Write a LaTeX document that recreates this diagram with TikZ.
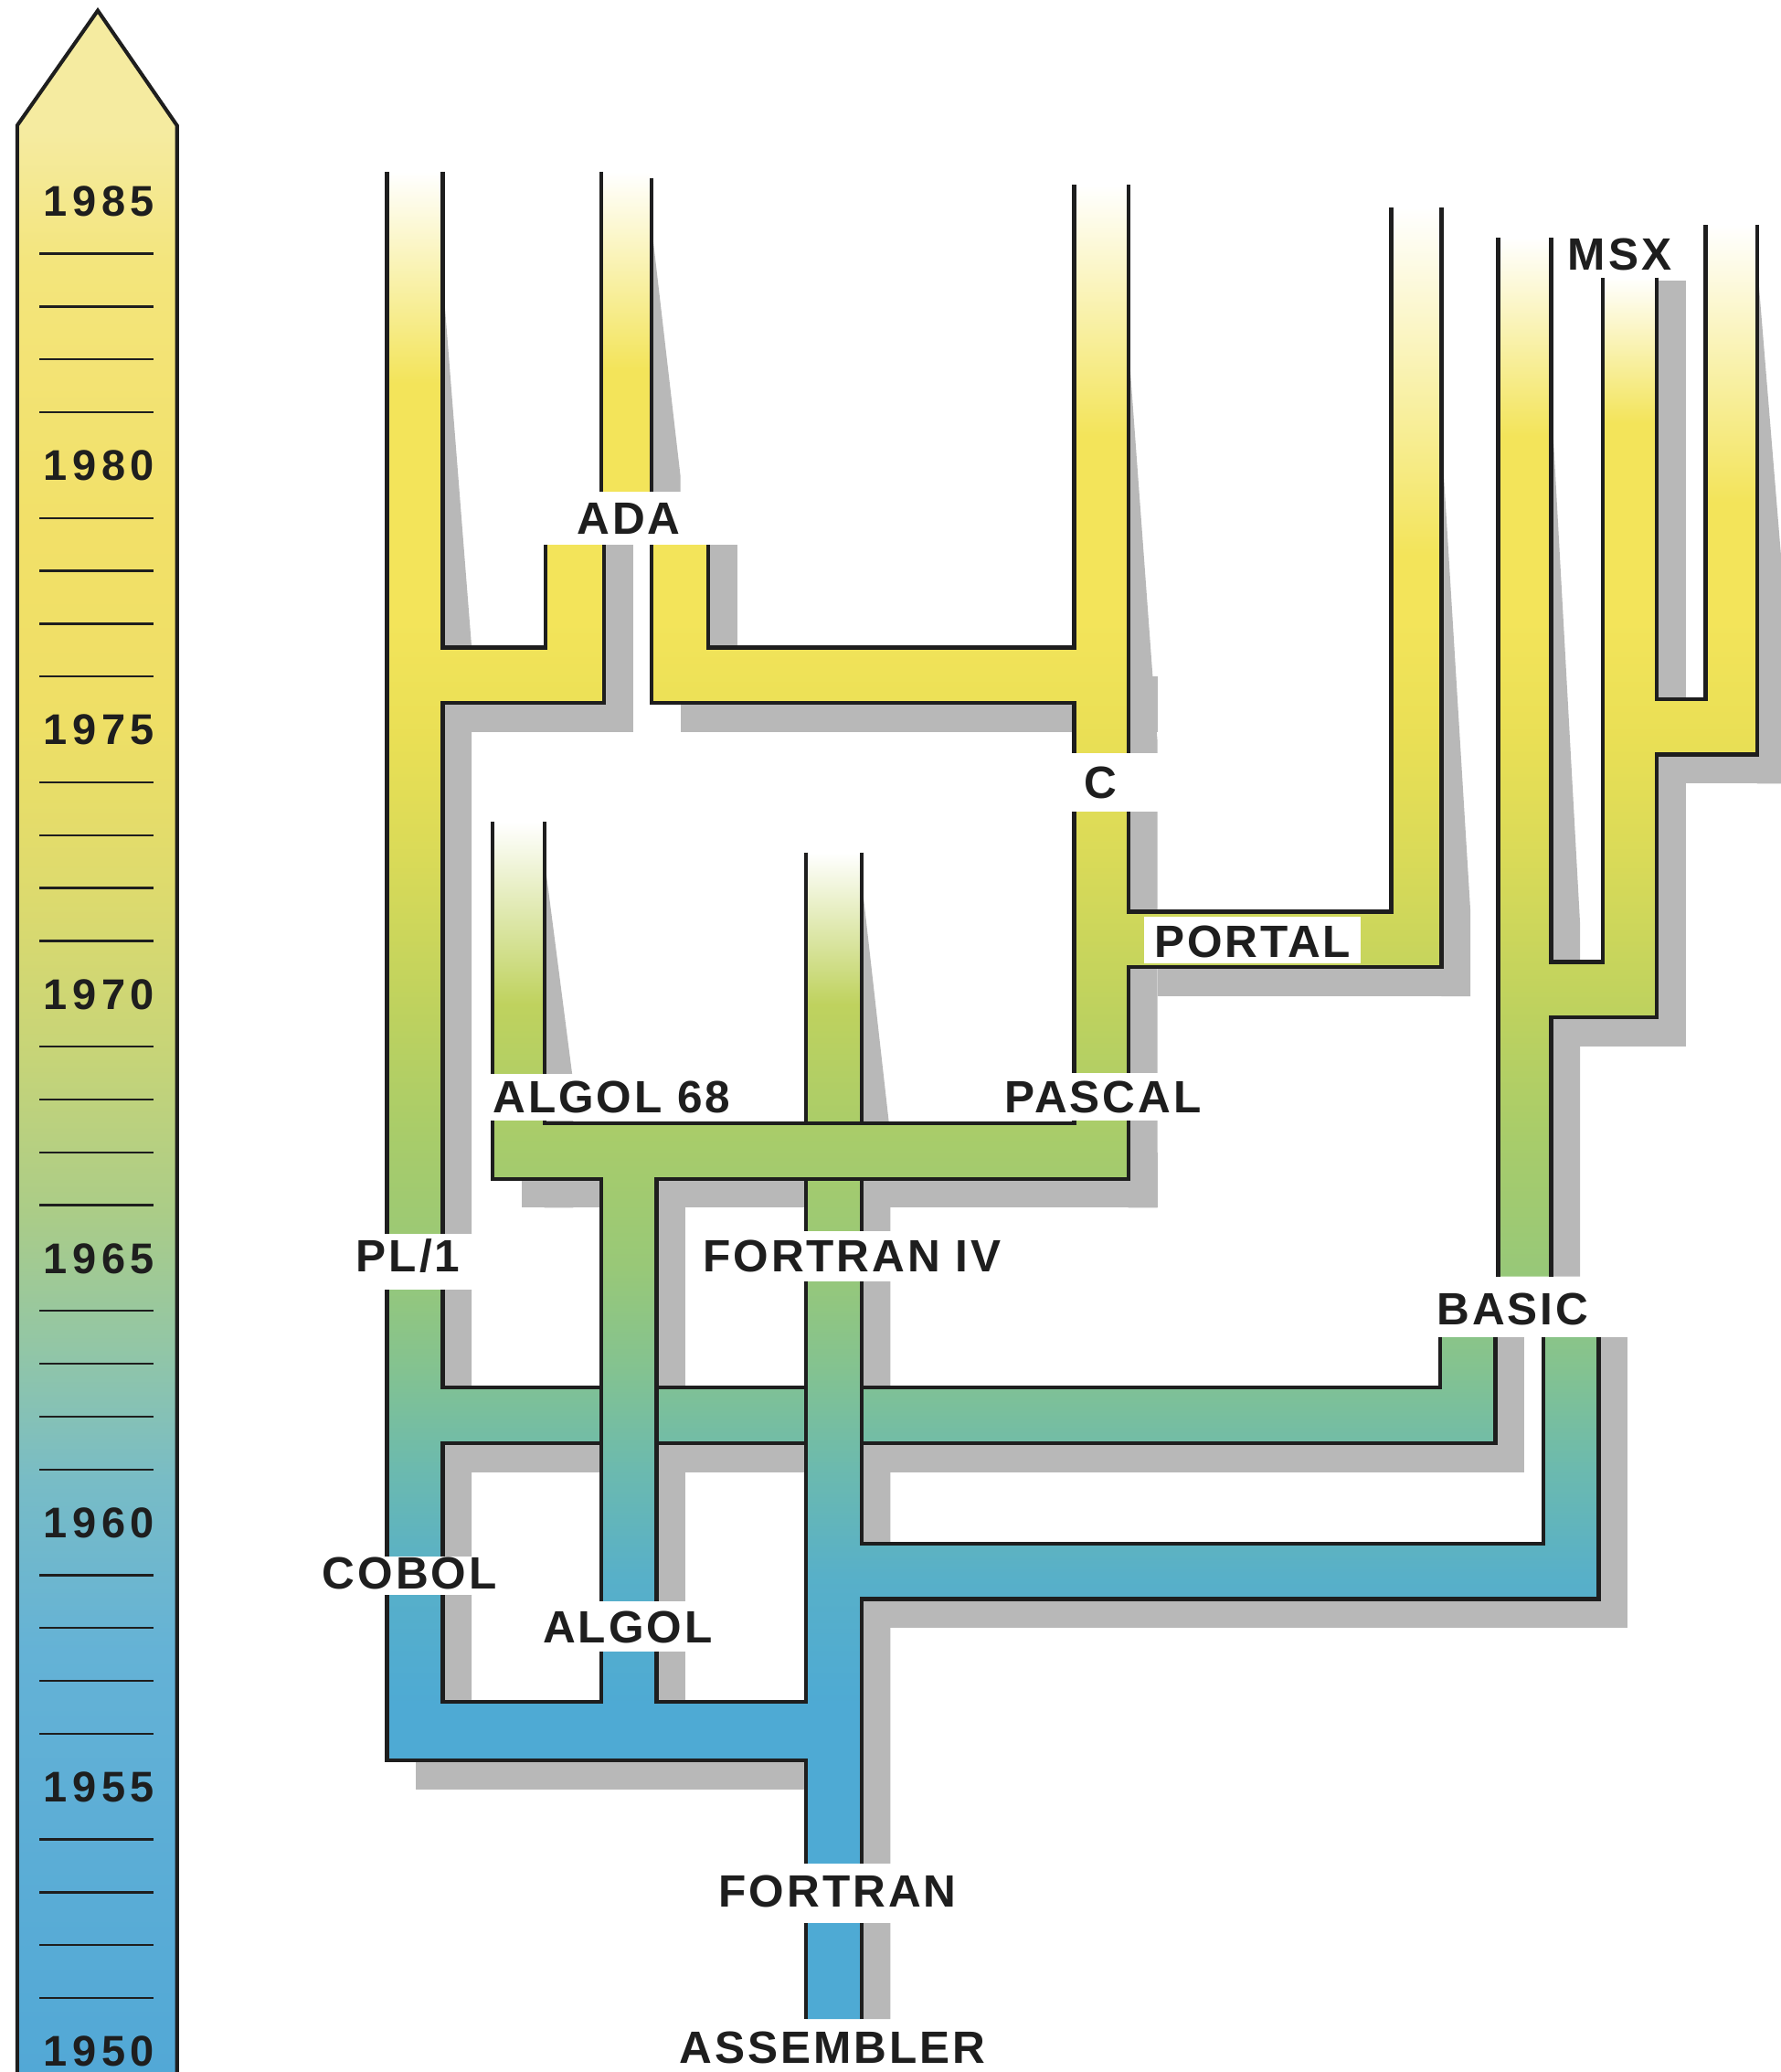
\documentclass[tikz,border=0pt]{standalone}
\usepackage{fontspec}
\setmainfont{Liberation Sans}
\newfontfamily\yearfont[LetterSpace=12]{Liberation Sans}
\newfontfamily\labfont[LetterSpace=6]{Liberation Sans}
\definecolor{g0}{HTML}{F3E45A}
\definecolor{g1}{HTML}{E9DF55}
\definecolor{g2}{HTML}{D9DA58}
\definecolor{g3}{HTML}{BFD25E}
\definecolor{g4}{HTML}{A8CC6A}
\definecolor{g5}{HTML}{98C878}
\definecolor{g6}{HTML}{82C292}
\definecolor{g7}{HTML}{6CBAAE}
\definecolor{g8}{HTML}{58B0C8}
\definecolor{g9}{HTML}{4EAAD4}
\definecolor{t0}{HTML}{F5EBA0}
\definecolor{t1}{HTML}{F3E57C}
\definecolor{t2}{HTML}{F2E068}
\definecolor{t3}{HTML}{EEDF66}
\definecolor{t4}{HTML}{DCDA6E}
\definecolor{t5}{HTML}{C6D478}
\definecolor{t6}{HTML}{AACC88}
\definecolor{t7}{HTML}{92C6A6}
\definecolor{t8}{HTML}{78BCC6}
\definecolor{t9}{HTML}{64B2D6}
\definecolor{t10}{HTML}{52A8D6}
\definecolor{ink}{HTML}{1E1E1E}
\tikzset{
  tubeline/.style={draw=ink, line width=1.7pt, line join=miter, line cap=butt},
  shadowfill/.style={fill=black!28},
  gapbox/.style={fill=white},
  lab/.style={font=\labfont\bfseries\fontsize{19.5}{20}\selectfont, text=ink, inner sep=0pt, text height=14pt, text depth=0pt},
  yr/.style={font=\yearfont\bfseries\fontsize{18.5}{20}\selectfont, text=ink, inner sep=0pt, text height=13.3pt, text depth=0pt},
  tickline/.style={draw=ink, line width=0.9pt},
  barline/.style={draw=ink, line width=1.6pt, line join=miter}
}
\begin{document}
\begin{tikzpicture}[x=0.02cm, y=-0.02cm]
\useasboundingbox (0,0) rectangle (1348,1568);
\fill[white] (0,0) rectangle (1348,1568);

% ---------- time line ----------
\begin{scope}
\clip (13,1570) -- (13,95) -- (74,8) -- (134,95) -- (134,1570) -- cycle;
\fill[t0] (0,0) rectangle (150,101);
\shade[top color=t0,bottom color=t1] (0,100) rectangle (150,201);
\shade[top color=t1,bottom color=t2] (0,200) rectangle (150,401);
\shade[top color=t2,bottom color=t3] (0,400) rectangle (150,551);
\shade[top color=t3,bottom color=t4] (0,550) rectangle (150,681);
\shade[top color=t4,bottom color=t5] (0,680) rectangle (150,801);
\shade[top color=t5,bottom color=t6] (0,800) rectangle (150,921);
\shade[top color=t6,bottom color=t7] (0,920) rectangle (150,1021);
\shade[top color=t7,bottom color=t8] (0,1020) rectangle (150,1121);
\shade[top color=t8,bottom color=t9] (0,1120) rectangle (150,1251);
\shade[top color=t9,bottom color=t10] (0,1250) rectangle (150,1570);
\end{scope}
\draw[barline] (13,1570) -- (13,95) -- (74,8) -- (134,95) -- (134,1570);
\foreach \k in {1,...,34}{
  \pgfmathtruncatemacro\m{mod(\k,5)}
  \ifnum\m>0 \draw[tickline] (30,152+40*\k) -- (116,152+40*\k); \fi
}
\foreach \yy [count=\i from 0] in {1985,1980,1975,1970,1965,1960,1955,1950}{
  \node[yr] (y\yy) at (75,152+200*\i) {\yy};
}

% ---------- shadows ----------
\fill[shadowfill] (335,210) -- (357,490) -- (357,1310) -- (335,1310) -- cycle;
\fill[shadowfill] (357,512) rectangle (479,554);
\fill[shadowfill] (493,170) -- (515,360) -- (515,372) -- (493,372) -- cycle;
\fill[shadowfill] (457,412) rectangle (479,554);
\fill[shadowfill] (536,412) rectangle (558,512);
\fill[shadowfill] (515,512) rectangle (876,554);
\fill[shadowfill] (854,260) -- (876,560) -- (876,914) -- (854,914) -- cycle;
\fill[shadowfill] (876,712) rectangle (1113,754);
\fill[shadowfill] (1091,330) -- (1113,690) -- (1113,754) -- (1091,754) -- cycle;
\fill[shadowfill] (412,650) -- (434,820) -- (434,914) -- (412,914) -- cycle;
\fill[shadowfill] (395,872) rectangle (876,914);
\fill[shadowfill] (497,892) rectangle (519,1310);
\fill[shadowfill] (652,665) -- (674,860) -- (674,1528) -- (652,1528) -- cycle;
\fill[shadowfill] (315,1072) rectangle (1154,1114);
\fill[shadowfill] (1132,1012) rectangle (1154,1114);
\fill[shadowfill] (632,1190) rectangle (1232,1232);
\fill[shadowfill] (1210,1012) rectangle (1232,1232);
\fill[shadowfill] (1174,300) -- (1196,700) -- (1196,966) -- (1174,966) -- cycle;
\fill[shadowfill] (1156,750) rectangle (1276,792);
\fill[shadowfill] (1254,212) rectangle (1276,792);
\fill[shadowfill] (1235,551) rectangle (1348,593);
\fill[shadowfill] (1330,200) -- (1348,420) -- (1348,593) -- (1330,593) -- cycle;
\fill[shadowfill] (315,1310) rectangle (674,1354);

% ---------- tube fills ----------
\begin{scope}
\clip (293,130) rectangle (335,1332)
      (455,130) rectangle (493,372)
      (413,412) rectangle (457,532)
      (493,412) rectangle (536,532)
      (335,490) rectangle (457,532)
      (493,490) rectangle (854,532)
      (813,140) rectangle (854,892)
      (854,690) rectangle (1091,732)
      (1053,157) rectangle (1091,732)
      (373,622) rectangle (412,892)
      (373,850) rectangle (854,892)
      (455,850) rectangle (497,1332)
      (610,645) rectangle (652,1528)
      (293,1050) rectangle (1132,1092)
      (1090,1012) rectangle (1132,1092)
      (610,1168) rectangle (1210,1210)
      (1168,1012) rectangle (1210,1210)
      (1134,180) rectangle (1174,966)
      (1134,728) rectangle (1254,770)
      (1213,210) rectangle (1254,770)
      (1213,529) rectangle (1330,571)
      (1291,170) rectangle (1330,571)
      (293,1288) rectangle (652,1332);
\fill[g0] (280,0) rectangle (1348,471);
\shade[top color=g0,bottom color=g1] (280,470) rectangle (1348,561);
\shade[top color=g1,bottom color=g2] (280,560) rectangle (1348,651);
\shade[top color=g2,bottom color=g3] (280,650) rectangle (1348,761);
\shade[top color=g3,bottom color=g4] (280,760) rectangle (1348,861);
\shade[top color=g4,bottom color=g5] (280,860) rectangle (1348,961);
\shade[top color=g5,bottom color=g6] (280,960) rectangle (1348,1041);
\shade[top color=g6,bottom color=g7] (280,1040) rectangle (1348,1111);
\shade[top color=g7,bottom color=g8] (280,1110) rectangle (1348,1191);
\shade[top color=g8,bottom color=g9] (280,1190) rectangle (1348,1291);
\fill[g9] (280,1290) rectangle (1348,1568);
\end{scope}
% pale tops of the branches
\shade[top color=white,bottom color=g0] (293,130) rectangle (335,290);
\shade[top color=white,bottom color=g0] (455,130) rectangle (493,280);
\shade[top color=white,bottom color=g0] (813,140) rectangle (854,330);
\shade[top color=white,bottom color=g0] (1053,157) rectangle (1091,420);
\shade[top color=white,bottom color=g0] (1134,180) rectangle (1174,330);
\shade[top color=white,bottom color=g0] (1213,210) rectangle (1254,320);
\shade[top color=white,bottom color=g0] (1291,170) rectangle (1330,380);
\shade[top color=white,bottom color=g3] (373,622) rectangle (412,760);
\shade[top color=white,bottom color=g3] (610,645) rectangle (652,760);

% ---------- outlines ----------
\draw[tubeline] (293,130) -- (293,1332) -- (610,1332) -- (610,1528);
\draw[tubeline] (335,130) -- (335,490) -- (413,490) -- (413,412);
\draw[tubeline] (457,412) -- (457,532) -- (335,532) -- (335,1050) -- (455,1050);
\draw[tubeline] (497,1050) -- (610,1050);
\draw[tubeline] (652,1050) -- (1090,1050) -- (1090,1012);
\draw[tubeline] (1132,1012) -- (1132,1092) -- (652,1092);
\draw[tubeline] (610,1092) -- (497,1092);
\draw[tubeline] (455,1092) -- (335,1092) -- (335,1288) -- (455,1288) -- (455,892) -- (373,892) -- (373,622);
\draw[tubeline] (412,622) -- (412,850) -- (813,850) -- (813,532) -- (493,532) -- (493,412);
\draw[tubeline] (536,412) -- (536,490) -- (813,490) -- (813,140);
\draw[tubeline] (610,645) -- (610,850);
\draw[tubeline] (652,645) -- (652,850);
\draw[tubeline] (610,892) -- (610,1288) -- (497,1288) -- (497,892) -- (854,892) -- (854,732) -- (1091,732) -- (1091,157);
\draw[tubeline] (854,140) -- (854,690) -- (1053,690) -- (1053,157);
\draw[tubeline] (652,892) -- (652,1168) -- (1168,1168) -- (1168,1012);
\draw[tubeline] (1210,1012) -- (1210,1210) -- (652,1210) -- (652,1528);
\draw[tubeline] (455,130) -- (455,372);
\draw[tubeline] (493,135) -- (493,372);
\draw[tubeline] (1134,180) -- (1134,966);
\draw[tubeline] (1174,180) -- (1174,728) -- (1213,728) -- (1213,210);
\draw[tubeline] (1254,210) -- (1254,529) -- (1291,529) -- (1291,170);
\draw[tubeline] (1330,170) -- (1330,571) -- (1254,571) -- (1254,770) -- (1174,770) -- (1174,966);

% ---------- label gaps ----------
\fill[gapbox] (410,372) rectangle (540,412);
\fill[gapbox] (804,570) rectangle (880,614);
\fill[gapbox] (866,694) rectangle (1030,729);
\fill[gapbox] (752,812) rectangle (918,848);
\fill[gapbox] (366,813) rectangle (562,848);
\fill[gapbox] (260,934) rectangle (362,976);
\fill[gapbox] (520,932) rectangle (772,970);
\fill[gapbox] (1080,966) rectangle (1216,1012);
\fill[gapbox] (234,1178) rectangle (388,1207);
\fill[gapbox] (402,1212) rectangle (548,1250);
\fill[gapbox] (535,1410) rectangle (735,1455);

% ---------- labels ----------
\node[lab] (ada) at (476,392) {ADA};
\node[lab] (c) at (833,592) {C};
\node[lab] (portal) at (948,712) {PORTAL};
\node[lab] (algol68) at (463,830) {ALGOL 68};
\node[lab] (pascal) at (835,830) {PASCAL};
\node[lab] (pl1) at (309,950) {PL/1};
\node[lab] (fortraniv) at (645,950) {FORTRAN IV};
\node[lab] (basic) at (1145,990) {BASIC};
\node[lab] (cobol) at (310,1190) {COBOL};
\node[lab] (algol) at (475,1231) {ALGOL};
\node[lab] (fortran) at (634,1431) {FORTRAN};
\node[lab] (assembler) at (630,1549) {ASSEMBLER};
\node[lab] (msx) at (1226,192) {MSX};
\end{tikzpicture}
\end{document}
